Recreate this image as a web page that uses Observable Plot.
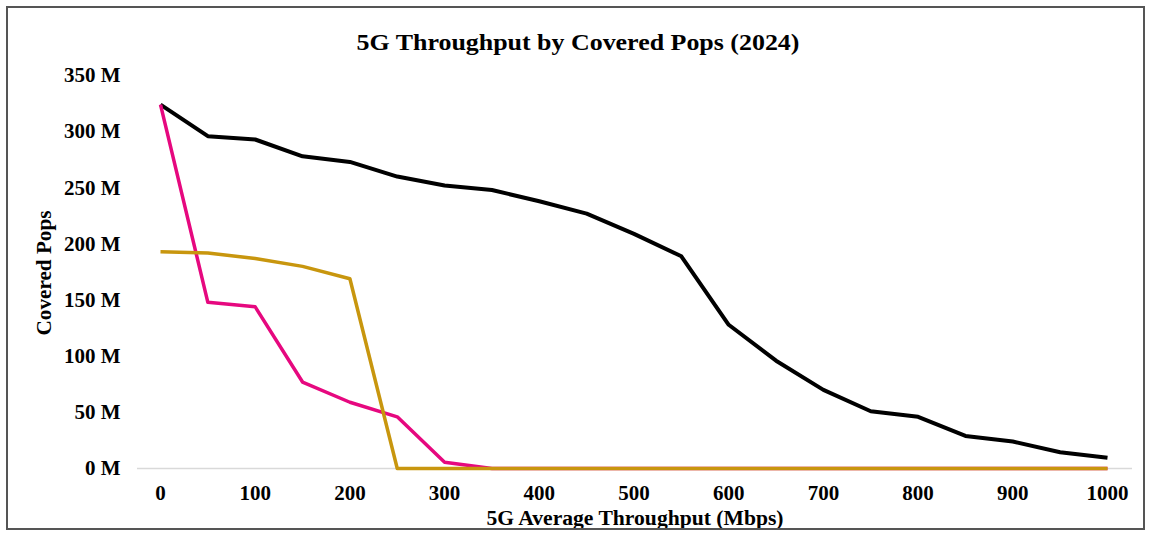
<!DOCTYPE html>
<html>
<head>
<meta charset="utf-8">
<script src="https://cdn.jsdelivr.net/npm/d3@7"></script>
<script src="https://cdn.jsdelivr.net/npm/@observablehq/plot@0.6"></script>
<style>
  html, body { margin: 0; padding: 0; background: #fff; }
  #wrap { position: relative; width: 1151px; height: 533px; overflow: hidden; }
  #frame { position: absolute; left: 6px; top: 6px; width: 1135px; height: 520px; border: 2px solid #555; pointer-events: none; }
  .lbl { position: absolute; font-family: "Liberation Serif", "Times New Roman", serif; font-weight: bold; color: #000; white-space: nowrap; }
  #title { left: 578px; top: 42px; font-size: 24px; transform: translate(-50%, -50%) scaleX(1.08); }
  #xlabel { left: 635px; top: 518px; font-size: 20px; transform: translate(-50%, -50%) scaleX(1.08); }
  #ylabel { left: 44px; top: 273px; font-size: 20px; transform: translate(-50%, -50%) rotate(-90deg) scaleX(1.06); }
</style>
</head>
<body>
<div id="wrap">
  <div id="chart"></div>
  <div id="title" class="lbl">5G Throughput by Covered Pops (2024)</div>
  <div id="xlabel" class="lbl">5G Average Throughput (Mbps)</div>
  <div id="ylabel" class="lbl">Covered Pops</div>
  <div id="frame"></div>
</div>
<script>
const throughput = [0,50,100,150,200,250,300,350,400,450,500,550,600,650,700,750,800,850,900,950,1000];
const seriesBlack = [324,296,293,278,273,260,252,248,238,227,209,189,128,96,70,51,46,29,24,14.5,9.5];
const seriesPink  = [324,148,144,77,59,46,5.5,0,0,0,0,0,0,0,0,0,0,0,0,0,0];
const seriesGold  = [193,192,187,180,169,0,0,0,0,0,0,0,0,0,0,0,0,0,0,0,0];
const xTicks = [0,100,200,300,400,500,600,700,800,900,1000];
const yTicks = [0,50,100,150,200,250,300,350];

const toRows = (vals) => throughput.map((t, i) => ({t, v: vals[i]}));
const black = toRows(seriesBlack), pink = toRows(seriesPink), gold = toRows(seriesGold);

const chart = Plot.plot({
  width: 1151,
  height: 533,
  marginLeft: 137,
  marginRight: 19,
  marginTop: 75,
  marginBottom: 65,
  insetLeft: 23,
  insetRight: 25,
  style: { fontFamily: "Liberation Serif, Times New Roman, serif", fontSize: "21px", fontWeight: "bold", color: "#000", background: "#fff" },
  x: { domain: [0, 1000], ticks: xTicks, tickSize: 0, tickPadding: 17, tickFormat: d => String(d), label: null },
  y: { domain: [0, 350], ticks: yTicks, tickSize: 0, tickPadding: 17, tickFormat: d => d + " M", label: null },
  marks: [
    Plot.ruleY([0], { stroke: "#d9d9d9", strokeWidth: 1.5 }),
    Plot.lineY(black, { x: "t", y: "v", stroke: "#000000", strokeWidth: 4, strokeLinecap: "butt" }),
    Plot.lineY(pink, { x: "t", y: "v", stroke: "#e6087f", strokeWidth: 3.5, strokeLinecap: "butt" }),
    Plot.lineY(gold, { x: "t", y: "v", stroke: "#c8960e", strokeWidth: 3.5, strokeLinecap: "butt" })
  ]
});
document.getElementById("chart").appendChild(chart);
</script>
</body>
</html>
